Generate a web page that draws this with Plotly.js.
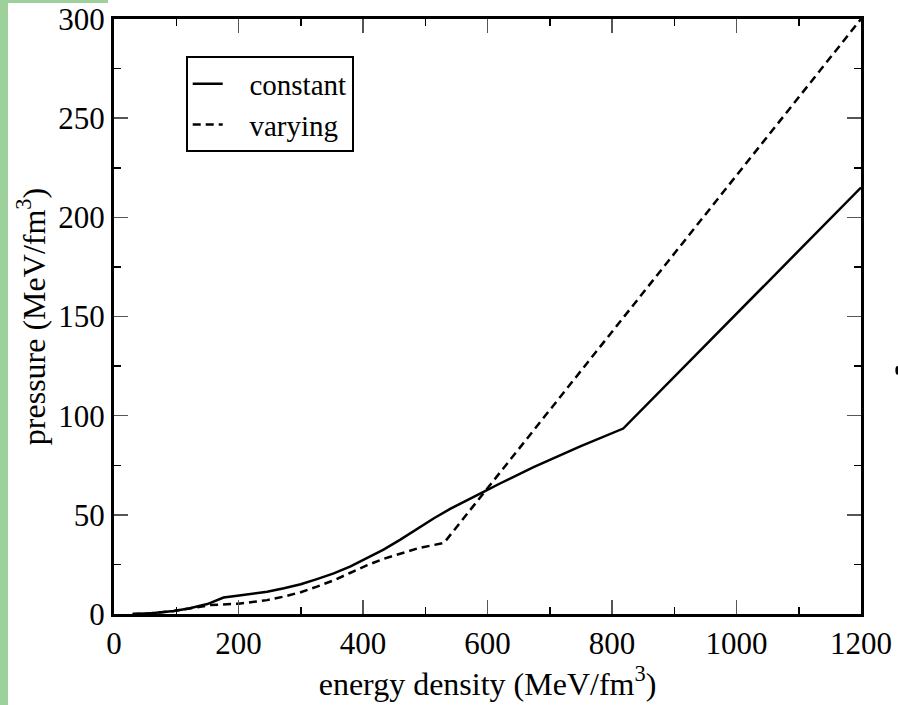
<!DOCTYPE html>
<html>
<head>
<meta charset="utf-8">
<script src="https://cdn.plot.ly/plotly-3.0.1.min.js"></script>
<style>
  html, body { margin: 0; padding: 0; background: #fff; }
  #wrap { position: relative; width: 898px; height: 705px; }
  #plot { width: 898px; height: 705px; }
  .strip { position: absolute; background: #9dd09b; pointer-events: none; }
</style>
</head>
<body>
<div id="wrap">
  <div id="plot"></div>
  <div class="strip" style="left:0;top:0;width:8px;height:705px;"></div>
  <div class="strip" style="left:0;top:0;width:108px;height:3px;"></div>
</div>
<script>
// energy density (MeV/fm^3) vs pressure (MeV/fm^3)
const constantX = [30, 42, 60, 96, 120, 150, 176, 198, 220, 246, 273, 300, 326, 353, 380, 406, 433, 460, 487, 514, 540, 567, 596, 620, 674, 749, 818, 1200];
const constantY = [0, 0.2, 0.4, 1.5, 2.8, 5, 8.3, 9.2, 10, 11.2, 13, 15, 17.6, 20.5, 24, 28, 32.5, 37.5, 43, 48.3, 53, 57.5, 62, 65.8, 74, 84.5, 93.5, 215];

const varyingX = [30, 42, 60, 96, 120, 155, 200, 246, 273, 300, 326, 353, 380, 406, 433, 460, 490, 530, 1200];
const varyingY = [0, 0.2, 0.4, 1.5, 2.8, 4.5, 5.2, 7, 8.8, 11, 13.8, 17, 20.8, 24.5, 27.8, 30.5, 33.3, 35.8, 300];

const seriesNames = ["\u00a0\u00a0\u00a0constant", "\u00a0\u00a0\u00a0varying"];
const xTickVals = [0, 200, 400, 600, 800, 1000, 1200];
const yTickVals = [0, 50, 100, 150, 200, 250, 300];

const font = "Liberation Serif, Times New Roman, serif";

const traces = [
  { x: constantX, y: constantY, name: seriesNames[0], mode: "lines", type: "scatter",
    line: { color: "#000", width: 2.5 } },
  { x: varyingX, y: varyingY, name: seriesNames[1], mode: "lines", type: "scatter",
    line: { color: "#000", width: 2.5, dash: "8px,5px" } }
];

const axisCommon = {
  showgrid: false, zeroline: false,
  showline: true, linecolor: "#000", linewidth: 3, mirror: "ticks",
  ticks: "inside", ticklen: 14, tickwidth: 1.5, tickcolor: "#555",
  tickfont: { family: font, size: 31, color: "#000" },
  minor: { ticks: "inside", ticklen: 7, tickwidth: 1.5, tickcolor: "#000" }
};

const layout = {
  width: 898, height: 705,
  margin: { l: 113.5, r: 37, t: 19, b: 91 },
  paper_bgcolor: "#fff", plot_bgcolor: "#fff",
  showlegend: true,
  legend: {
    x: 0.096, y: 0.937, xanchor: "left", yanchor: "top",
    bgcolor: "#fff", bordercolor: "#000", borderwidth: 2,
    font: { family: font, size: 29, color: "#000" },
    itemwidth: 30, tracegroupgap: 0
  },
  xaxis: Object.assign({}, axisCommon, {
    range: [0, 1200], tickvals: xTickVals, ticktext: xTickVals.map(String),
    minor: Object.assign({}, axisCommon.minor, { dtick: 100, tick0: 0 }),
    title: { text: "energy density (MeV/fm<sup>3</sup>)", font: { family: font, size: 32, color: "#000" }, standoff: 6 }
  }),
  yaxis: Object.assign({}, axisCommon, {
    range: [0, 300], tickvals: yTickVals, ticktext: yTickVals.map(String),
    minor: Object.assign({}, axisCommon.minor, { dtick: 25, tick0: 0 }),
    title: { text: "pressure (MeV/fm<sup>3</sup>)", font: { family: font, size: 32, color: "#000" }, standoff: 4 }
  }),
  shapes: [
    { type: "circle", xref: "paper", yref: "paper", x0: 1.046, x1: 1.052, y0: 0.402, y1: 0.417,
      fillcolor: "#000", line: { width: 0 } }
  ]
};

Plotly.newPlot("plot", traces, layout, { displayModeBar: false, staticPlot: true });
</script>
</body>
</html>
